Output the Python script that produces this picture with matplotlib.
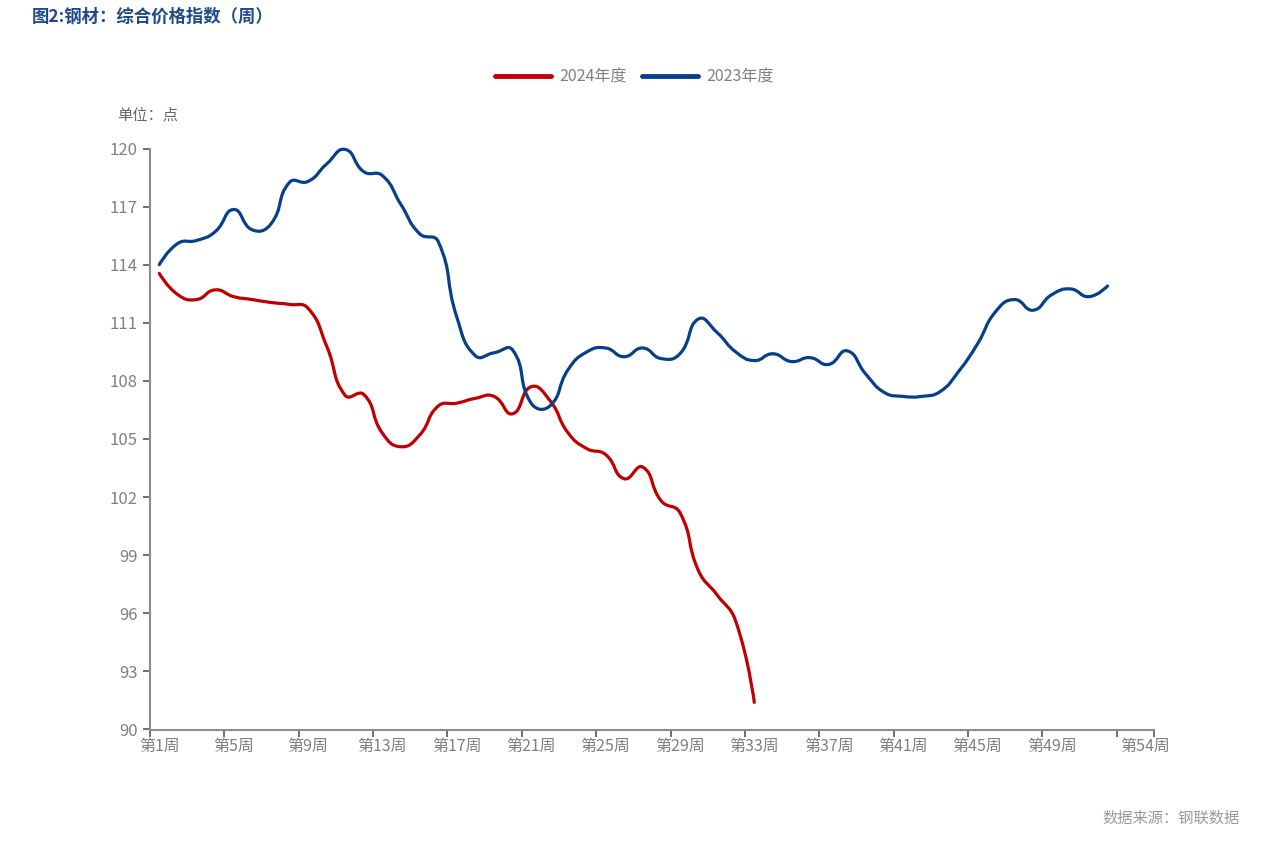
import numpy as np
import matplotlib
matplotlib.use("Agg")
import matplotlib.pyplot as plt
from matplotlib.path import Path
from matplotlib.patches import PathPatch
from matplotlib.lines import Line2D

plt.rcParams['font.family'] = ['Noto Sans CJK SC', 'DejaVu Sans']

# weekly composite steel price index
weeks_2024 = list(range(1, 34))
vals_2024 = [113.55, 112.45, 112.2, 112.7, 112.35, 112.2, 112.05, 111.95, 111.75, 109.8,
             107.25, 107.3, 105.3, 104.6, 105.2, 106.7, 106.85, 107.1, 107.2, 106.3,
             107.7, 107.0, 105.3, 104.5, 104.2, 102.95, 103.55, 101.8, 101.2, 98.2,
             96.95, 95.6, 91.4]

weeks_2023 = list(range(1, 53))
vals_2023 = [114.0, 115.1, 115.25, 115.7, 116.85, 115.8, 116.1, 118.25, 118.3, 119.2,
             119.95, 118.8, 118.6, 117.1, 115.6, 115.2, 111.3, 109.3, 109.45, 109.6,
             106.85, 106.7, 108.6, 109.5, 109.7, 109.25, 109.7, 109.15, 109.4, 111.2,
             110.5, 109.5, 109.05, 109.4, 109.0, 109.2, 108.85, 109.55, 108.35, 107.4,
             107.2, 107.2, 107.45, 108.5, 109.9, 111.6, 112.2, 111.65, 112.45, 112.75,
             112.35, 112.9]

n_weeks = 54
label_weeks = [1, 5, 9, 13, 17, 21, 25, 29, 33, 37, 41, 45, 49, 54]

RED = '#C00000'
BLUE = '#073F8C'
GREY = '#808080'


def smooth_path(xs, ys, smooth=0.5, sx=18.6, sy=19.4):
    # bezier control points like a smoothed category line chart
    px = np.asarray(xs, float) * sx
    py = np.asarray(ys, float) * sy
    verts = [(px[0], py[0])]
    codes = [Path.MOVETO]
    cp0 = (px[0], py[0])
    for i in range(1, len(px)):
        x, y = px[i], py[i]
        if i < len(px) - 1:
            vx, vy = px[i + 1] - px[i - 1], py[i + 1] - py[i - 1]
            l0 = np.hypot(x - px[i - 1], y - py[i - 1])
            l1 = np.hypot(px[i + 1] - x, py[i + 1] - y)
            r = l1 / (l0 + l1)
            cp1 = (x - vx * smooth * (1 - r), y - vy * smooth * (1 - r))
            nxt = (x + vx * smooth * r, y + vy * smooth * r)
        else:
            cp1 = (x, y)
            nxt = None
        verts += [cp0, cp1, (x, y)]
        codes += [Path.CURVE4] * 3
        cp0 = nxt
    verts = np.array(verts) / [sx, sy]
    return Path(verts, codes)


fig = plt.figure(figsize=(12.66, 8.42), dpi=100)
ax = fig.add_axes([150 / 1266, 1 - 729.5 / 842, 1004 / 1266, 581 / 842])

for wk, vals, col in [(weeks_2024, vals_2024, RED), (weeks_2023, vals_2023, BLUE)]:
    xs = np.array(wk) - 0.5
    ax.add_patch(PathPatch(smooth_path(xs, vals), fill=False, edgecolor=col,
                           lw=2.3, capstyle='round', joinstyle='round', clip_on=False))

ax.set_xlim(0, n_weeks)
ax.set_ylim(90, 120)
ax.set_yticks(np.arange(90, 121, 3))
ax.set_xticks(list(range(0, 53, 4)) + [n_weeks])
ax.set_xticklabels([])
ax.set_xticks([w - 0.5 for w in label_weeks], minor=True)
ax.set_xticklabels([f'第{w}周' for w in label_weeks], minor=True)
ax.tick_params(axis='x', which='major', length=5, width=1.2, color='#555555', direction='out')
ax.tick_params(axis='x', which='minor', length=0, pad=6, labelsize=11.5, labelcolor=GREY)
ax.tick_params(axis='y', length=5, width=1.2, color='#555555', labelsize=12,
               labelcolor=GREY, pad=4)

for s in ['top', 'right']:
    ax.spines[s].set_visible(False)
for s in ['left', 'bottom']:
    ax.spines[s].set_color('#8c8c8c')
    ax.spines[s].set_linewidth(1.5)

handles = [Line2D([], [], color=RED, lw=3.5, solid_capstyle='round'),
           Line2D([], [], color=BLUE, lw=3.5, solid_capstyle='round')]
leg = fig.legend(handles, ['2024年度', '2023年度'], loc='center', ncol=2,
                 bbox_to_anchor=(0.501, 1 - 77 / 842), frameon=False, fontsize=11.5,
                 handlelength=3.5, handletextpad=0.5, columnspacing=1.0)
for t in leg.get_texts():
    t.set_color(GREY)

fig.text(32 / 1266, 1 - 17 / 842, '图2:钢材：综合价格指数（周）', fontsize=12.5,
         fontweight='bold', color='#1F4A8A', va='center', ha='left')
fig.text(117 / 1266, 1 - 115 / 842, '单位：点', fontsize=11, color='#666666',
         va='center', ha='left')
fig.text(1240 / 1266, 1 - 818 / 842, '数据来源：钢联数据', fontsize=11, color='#999999',
         va='center', ha='right')

fig.savefig('out.png', dpi=100, facecolor='white')
